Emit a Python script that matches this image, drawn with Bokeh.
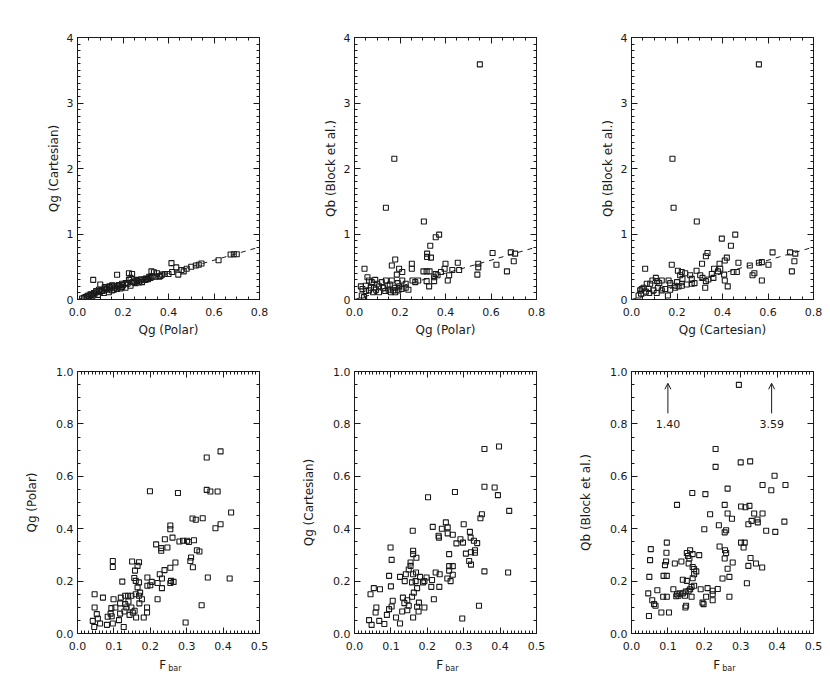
from bokeh.plotting import figure
from bokeh.layouts import column, row
from bokeh.models import (Range1d, SingleIntervalTicker, LinearAxis, NumeralTickFormatter,
                          Label, Arrow, OpenHead)
from bokeh.embed import file_html
from bokeh.resources import INLINE

# ---------------- data ----------------
p1_x = [0.673, 0.687, 0.70, 0.62, 0.533, 0.545, 0.52, 0.50, 0.48, 0.413,
        0.434, 0.443, 0.457, 0.467, 0.416, 0.40, 0.384, 0.372, 0.35, 0.336,
        0.325, 0.343, 0.321, 0.306, 0.29, 0.277, 0.262, 0.24, 0.233, 0.226,
        0.174, 0.226, 0.243, 0.211, 0.196, 0.182, 0.167, 0.152, 0.138, 0.12,
        0.10, 0.126, 0.108, 0.094, 0.082, 0.069, 0.072, 0.057, 0.047, 0.035,
        0.028, 0.02, 0.152, 0.174, 0.196, 0.211, 0.233, 0.255, 0.284, 0.299,
        0.138, 0.116, 0.09, 0.065, 0.36, 0.365, 0.27, 0.31, 0.19, 0.16,
        0.05, 0.04, 0.06, 0.075, 0.085, 0.11, 0.13, 0.145, 0.165, 0.18,
        0.20, 0.22, 0.25, 0.26, 0.28, 0.30, 0.315, 0.33, 0.10, 0.12,
        0.14, 0.16]
p1_y = [0.687, 0.69, 0.69, 0.60, 0.53, 0.55, 0.52, 0.50, 0.47, 0.555,
        0.49, 0.38, 0.45, 0.43, 0.42, 0.39, 0.39, 0.38, 0.40, 0.415,
        0.43, 0.35, 0.33, 0.315, 0.30, 0.29, 0.28, 0.39, 0.33, 0.40,
        0.377, 0.30, 0.265, 0.25, 0.24, 0.22, 0.20, 0.215, 0.19, 0.19,
        0.23, 0.16, 0.14, 0.15, 0.13, 0.30, 0.10, 0.08, 0.06, 0.036,
        0.025, 0.015, 0.14, 0.16, 0.19, 0.18, 0.21, 0.25, 0.265, 0.30,
        0.11, 0.10, 0.07, 0.05, 0.35, 0.36, 0.26, 0.31, 0.17, 0.15,
        0.05, 0.045, 0.07, 0.09, 0.11, 0.13, 0.15, 0.17, 0.18, 0.20,
        0.22, 0.24, 0.27, 0.30, 0.31, 0.32, 0.345, 0.35, 0.12, 0.17,
        0.20, 0.21]

p2_x = [0.138, 0.305, 0.372, 0.357, 0.333, 0.319, 0.319, 0.336, 0.607, 0.687,
        0.706, 0.624, 0.70, 0.67, 0.454, 0.544, 0.544, 0.54, 0.40, 0.396,
        0.357, 0.365, 0.416, 0.41, 0.38, 0.303, 0.317, 0.33, 0.252, 0.252,
        0.179, 0.164, 0.196, 0.21, 0.186, 0.044, 0.255, 0.267, 0.28, 0.328,
        0.35, 0.35, 0.317, 0.21, 0.225, 0.19, 0.164, 0.155, 0.179, 0.193,
        0.138, 0.145, 0.12, 0.108, 0.091, 0.076, 0.10, 0.086, 0.064, 0.05,
        0.035, 0.028, 0.05, 0.064, 0.072, 0.082, 0.094, 0.108, 0.126, 0.135,
        0.15, 0.16, 0.17, 0.179, 0.196, 0.208, 0.225, 0.237, 0.032, 0.042,
        0.43, 0.46, 0.057, 0.551, 0.175]
p2_y = [1.40, 1.19, 0.99, 0.95, 0.82, 0.70, 0.65, 0.64, 0.71, 0.72,
        0.70, 0.53, 0.585, 0.43, 0.56, 0.545, 0.49, 0.38, 0.545, 0.47,
        0.39, 0.37, 0.37, 0.29, 0.42, 0.43, 0.43, 0.43, 0.545, 0.47,
        0.61, 0.52, 0.47, 0.42, 0.38, 0.47, 0.29, 0.265, 0.29, 0.20,
        0.34, 0.28, 0.28, 0.29, 0.24, 0.25, 0.29, 0.23, 0.18, 0.14,
        0.29, 0.21, 0.265, 0.20, 0.30, 0.265, 0.24, 0.18, 0.29, 0.21,
        0.16, 0.20, 0.13, 0.14, 0.18, 0.11, 0.15, 0.11, 0.18, 0.13,
        0.15, 0.11, 0.14, 0.11, 0.20, 0.16, 0.18, 0.15, 0.06, 0.036,
        0.45, 0.45, 0.34, 3.59, 2.15]

p3_x = [0.185, 0.287, 0.456, 0.397, 0.437, 0.334, 0.327, 0.419, 0.62, 0.697,
        0.72, 0.716, 0.705, 0.602, 0.573, 0.56, 0.52, 0.54, 0.532, 0.573,
        0.47, 0.463, 0.448, 0.41, 0.387, 0.39, 0.38, 0.363, 0.353, 0.36,
        0.407, 0.41, 0.423, 0.31, 0.286, 0.302, 0.312, 0.338, 0.327, 0.177,
        0.06, 0.204, 0.221, 0.236, 0.214, 0.224, 0.258, 0.265, 0.163, 0.17,
        0.133, 0.122, 0.107, 0.113, 0.092, 0.082, 0.067, 0.053, 0.038, 0.045,
        0.031, 0.042, 0.075, 0.097, 0.116, 0.133, 0.148, 0.17, 0.192, 0.207,
        0.221, 0.243, 0.265, 0.277, 0.16, 0.111, 0.324, 0.20, 0.19, 0.063,
        0.078, 0.56, 0.18]
p3_y = [1.40, 1.19, 0.99, 0.93, 0.82, 0.71, 0.66, 0.64, 0.72, 0.72,
        0.70, 0.585, 0.43, 0.53, 0.57, 0.56, 0.52, 0.40, 0.37, 0.29,
        0.56, 0.42, 0.42, 0.595, 0.545, 0.47, 0.43, 0.47, 0.39, 0.33,
        0.38, 0.29, 0.20, 0.545, 0.44, 0.37, 0.33, 0.305, 0.28, 0.53,
        0.47, 0.44, 0.42, 0.40, 0.37, 0.315, 0.37, 0.315, 0.29, 0.25,
        0.29, 0.25, 0.33, 0.28, 0.29, 0.24, 0.24, 0.18, 0.14, 0.16,
        0.06, 0.09, 0.16, 0.14, 0.18, 0.14, 0.16, 0.15, 0.18, 0.20,
        0.21, 0.23, 0.24, 0.25, 0.06, 0.10, 0.18, 0.265, 0.21, 0.12,
        0.10, 3.59, 2.15]

fit_x = [0.0, 0.8]
fit_y = [0.0, 0.8]

p4_x = [0.393, 0.355, 0.199, 0.276, 0.355, 0.365, 0.385, 0.422, 0.393, 0.379,
        0.316, 0.325, 0.344, 0.255, 0.255, 0.240, 0.261, 0.216, 0.230, 0.230,
        0.247, 0.280, 0.290, 0.301, 0.306, 0.320, 0.328, 0.335, 0.312, 0.310,
        0.317, 0.269, 0.239, 0.255, 0.257, 0.264, 0.255, 0.232, 0.226, 0.232,
        0.220, 0.220, 0.204, 0.192, 0.192, 0.200, 0.358, 0.418, 0.341, 0.297,
        0.097, 0.097, 0.123, 0.150, 0.158, 0.165, 0.169, 0.156, 0.160, 0.165,
        0.169, 0.172, 0.169, 0.160, 0.148, 0.139, 0.131, 0.119, 0.117, 0.131,
        0.140, 0.134, 0.148, 0.157, 0.152, 0.143, 0.129, 0.117, 0.114, 0.127,
        0.104, 0.093, 0.091, 0.083, 0.094, 0.097, 0.081, 0.099, 0.070, 0.047,
        0.047, 0.053, 0.056, 0.062, 0.046, 0.042, 0.182, 0.191, 0.191, 0.161,
        0.177, 0.170]
p4_y = [0.695, 0.672, 0.543, 0.536, 0.548, 0.542, 0.542, 0.462, 0.417, 0.402,
        0.439, 0.434, 0.440, 0.412, 0.398, 0.360, 0.366, 0.340, 0.326, 0.316,
        0.328, 0.351, 0.354, 0.354, 0.349, 0.356, 0.318, 0.313, 0.290, 0.277,
        0.253, 0.271, 0.242, 0.251, 0.201, 0.197, 0.193, 0.210, 0.226, 0.173,
        0.131, 0.193, 0.197, 0.214, 0.182, 0.184, 0.214, 0.210, 0.108, 0.042,
        0.277, 0.254, 0.198, 0.275, 0.240, 0.258, 0.272, 0.212, 0.201, 0.176,
        0.195, 0.156, 0.144, 0.150, 0.144, 0.144, 0.144, 0.137, 0.115, 0.112,
        0.122, 0.099, 0.099, 0.087, 0.080, 0.071, 0.084, 0.076, 0.051, 0.025,
        0.099, 0.097, 0.076, 0.064, 0.066, 0.038, 0.033, 0.131, 0.137, 0.150,
        0.099, 0.074, 0.057, 0.038, 0.025, 0.048, 0.061, 0.099, 0.080, 0.061,
        0.131, 0.115]

p5_x = [0.357, 0.397, 0.202, 0.357, 0.385, 0.394, 0.276, 0.425, 0.350, 0.346,
        0.300, 0.251, 0.256, 0.256, 0.160, 0.215, 0.240, 0.231, 0.232, 0.270,
        0.280, 0.298, 0.291, 0.317, 0.319, 0.328, 0.337, 0.331, 0.331, 0.320,
        0.315, 0.320, 0.306, 0.099, 0.102, 0.260, 0.161, 0.161, 0.170, 0.154,
        0.154, 0.149, 0.161, 0.169, 0.141, 0.168, 0.158, 0.138, 0.125, 0.095,
        0.100, 0.172, 0.163, 0.158, 0.133, 0.137, 0.145, 0.149, 0.172, 0.176,
        0.161, 0.145, 0.131, 0.114, 0.125, 0.105, 0.102, 0.095, 0.089, 0.082,
        0.044, 0.053, 0.070, 0.060, 0.058, 0.068, 0.040, 0.047, 0.180, 0.198,
        0.192, 0.188, 0.213, 0.211, 0.218, 0.223, 0.234, 0.233, 0.255, 0.260,
        0.260, 0.270, 0.264, 0.270, 0.357, 0.422, 0.342, 0.296, 0.192, 0.177]
p5_y = [0.704, 0.714, 0.520, 0.560, 0.557, 0.528, 0.540, 0.468, 0.455, 0.440,
        0.417, 0.424, 0.405, 0.382, 0.392, 0.407, 0.400, 0.373, 0.366, 0.377,
        0.344, 0.347, 0.360, 0.388, 0.366, 0.354, 0.345, 0.318, 0.308, 0.310,
        0.277, 0.263, 0.305, 0.328, 0.281, 0.303, 0.316, 0.303, 0.289, 0.271,
        0.258, 0.244, 0.226, 0.233, 0.226, 0.200, 0.195, 0.200, 0.216, 0.220,
        0.180, 0.173, 0.156, 0.140, 0.137, 0.116, 0.127, 0.106, 0.102, 0.084,
        0.061, 0.089, 0.084, 0.061, 0.038, 0.125, 0.103, 0.093, 0.071, 0.036,
        0.150, 0.173, 0.169, 0.099, 0.080, 0.048, 0.051, 0.033, 0.216, 0.214,
        0.200, 0.195, 0.204, 0.178, 0.131, 0.233, 0.226, 0.178, 0.210, 0.240,
        0.257, 0.257, 0.200, 0.224, 0.237, 0.233, 0.106, 0.057, 0.099, 0.118]

p6_x = [0.295, 0.231, 0.231, 0.326, 0.300, 0.393, 0.264, 0.360, 0.423, 0.384,
        0.167, 0.203, 0.125, 0.256, 0.264, 0.276, 0.216, 0.240, 0.200, 0.256,
        0.260, 0.301, 0.313, 0.324, 0.337, 0.360, 0.346, 0.347, 0.321, 0.330,
        0.370, 0.395, 0.420, 0.301, 0.311, 0.308, 0.242, 0.257, 0.260, 0.256,
        0.278, 0.264, 0.327, 0.342, 0.321, 0.359, 0.317, 0.250, 0.269, 0.269,
        0.237, 0.223, 0.223, 0.223, 0.209, 0.205, 0.195, 0.198, 0.190, 0.186,
        0.168, 0.161, 0.152, 0.155, 0.159, 0.157, 0.168, 0.172, 0.178, 0.172,
        0.168, 0.152, 0.141, 0.165, 0.172, 0.161, 0.157, 0.165, 0.141, 0.147,
        0.125, 0.129, 0.123, 0.132, 0.115, 0.119, 0.137, 0.149, 0.150, 0.148,
        0.095, 0.092, 0.096, 0.097, 0.097, 0.088, 0.087, 0.097, 0.071, 0.053,
        0.051, 0.049, 0.046, 0.057, 0.062, 0.066, 0.082, 0.103, 0.048]
p6_y = [0.949, 0.704, 0.636, 0.657, 0.653, 0.602, 0.553, 0.567, 0.567, 0.547,
        0.536, 0.532, 0.491, 0.491, 0.458, 0.438, 0.455, 0.413, 0.398, 0.386,
        0.394, 0.485, 0.482, 0.487, 0.458, 0.458, 0.435, 0.424, 0.417, 0.430,
        0.392, 0.388, 0.427, 0.347, 0.347, 0.328, 0.332, 0.318, 0.307, 0.286,
        0.271, 0.247, 0.288, 0.267, 0.258, 0.252, 0.192, 0.210, 0.216, 0.140,
        0.170, 0.163, 0.150, 0.127, 0.173, 0.140, 0.118, 0.112, 0.169, 0.299,
        0.303, 0.318, 0.307, 0.296, 0.286, 0.267, 0.254, 0.246, 0.237, 0.226,
        0.211, 0.201, 0.205, 0.178, 0.182, 0.169, 0.163, 0.140, 0.153, 0.144,
        0.150, 0.144, 0.142, 0.153, 0.169, 0.267, 0.275, 0.160, 0.106, 0.099,
        0.275, 0.261, 0.308, 0.347, 0.220, 0.220, 0.140, 0.140, 0.165, 0.322,
        0.280, 0.216, 0.153, 0.127, 0.112, 0.106, 0.080, 0.080, 0.067]

p6_off_x = [0.10, 0.385]
p6_off_labels = ["1.40", "3.59"]

# ---------------- styling ----------------
FONT = "DejaVu Sans"
INK = "#1a1a1a"
NB = "\u00a0"


def make_panel(xs, ys, xr, yr, xint, xminor, yint, yminor, xfmt, yfmt,
               xlabel, ylabel, ylab_standoff, w, h, bl, br, bt, bb):
    p = figure(width=w, height=h, x_range=Range1d(*xr), y_range=Range1d(*yr),
               output_backend="svg", toolbar_location=None,
               x_axis_type=None, y_axis_type=None,
               min_border_left=bl, min_border_right=br,
               min_border_top=bt, min_border_bottom=bb)
    p.outline_line_color = INK
    p.outline_line_width = 1
    xt = SingleIntervalTicker(interval=xint, num_minor_ticks=xminor)
    yt = SingleIntervalTicker(interval=yint, num_minor_ticks=yminor)
    for loc, tick, fmt, lab in [("below", xt, xfmt, xlabel),
                                ("left", yt, yfmt, ylabel),
                                ("above", xt, xfmt, None),
                                ("right", yt, yfmt, None)]:
        ax = LinearAxis(ticker=tick, formatter=NumeralTickFormatter(format=fmt))
        ax.axis_line_color = INK
        ax.major_tick_line_color = INK
        ax.minor_tick_line_color = INK
        ax.major_tick_in = 6
        ax.major_tick_out = 0
        ax.minor_tick_in = 3
        ax.minor_tick_out = 0
        if loc in ("below", "left"):
            ax.major_label_text_font = FONT
            ax.major_label_text_font_size = "11px"
            ax.major_label_text_color = INK
            ax.major_label_standoff = 8 if loc == "below" else 4
            if lab:
                ax.axis_label = lab
                ax.axis_label_text_font = FONT
                ax.axis_label_text_font_size = "12px"
                ax.axis_label_text_font_style = "normal"
                ax.axis_label_text_color = INK
                ax.axis_label_standoff = 4 if loc == "below" else ylab_standoff
        else:
            ax.major_label_text_font_size = "1px"
            ax.major_label_text_color = None
            ax.major_label_standoff = 0
        p.add_layout(ax, loc)
    p.scatter(xs, ys, marker="square", size=5, fill_color=None,
              line_color=INK, line_width=1.1)
    return p


def add_fbar(p):
    # "F" with subscript "bar": main label on the tick axis, subscript on a
    # bare axis stacked underneath it and pulled up beside the "F"
    ax = p.below[0]
    ax.axis_label = "F" + NB * 3
    ax.axis_label_text_font = FONT
    ax.axis_label_text_font_size = "12px"
    ax.axis_label_text_font_style = "normal"
    ax.axis_label_text_color = INK
    ax.axis_label_standoff = 5
    sub = LinearAxis(ticker=SingleIntervalTicker(interval=0.1, num_minor_ticks=0),
                     axis_line_color=None, major_tick_line_color=None,
                     minor_tick_line_color=None, major_label_text_color=None,
                     major_label_text_font_size="1px", major_label_standoff=0,
                     axis_label=NB * 5 + "bar", axis_label_text_font=FONT,
                     axis_label_text_font_size="8px",
                     axis_label_text_font_style="normal",
                     axis_label_text_color=INK, axis_label_standoff=-17)
    p.add_layout(sub, "below")


TOP_H, BOT_H = 353, 339

p1 = make_panel(p1_x, p1_y, (0, 0.8), (0, 4), 0.2, 4, 1, 10, "0.0", "0",
                "Qg (Polar)", "Qg (Cartesian)", 3, 285, TOP_H, 77, 26, 37, 54)
p2 = make_panel(p2_x, p2_y, (0, 0.8), (0, 4), 0.2, 4, 1, 10, "0.0", "0",
                "Qg (Polar)", "Qb (Block et al.)", 3, 277, TOP_H, 69, 26, 37, 54)
p3 = make_panel(p3_x, p3_y, (0, 0.8), (0, 4), 0.2, 4, 1, 10, "0.0", "0",
                "Qg (Cartesian)", "Qb (Block et al.)", 3, 260, TOP_H, 69, 9, 37, 54)
for p in (p1, p2, p3):
    p.line(fit_x, fit_y, line_color=INK, line_width=1, line_dash="5 5")

p4 = make_panel(p4_x, p4_y, (0, 0.5), (0, 1), 0.1, 10, 0.2, 4, "0.0", "0.0",
                None, "Qg (Polar)", 14, 285, BOT_H, 77, 26, 18, 59)
p5 = make_panel(p5_x, p5_y, (0, 0.5), (0, 1), 0.1, 10, 0.2, 4, "0.0", "0.0",
                None, "Qg (Cartesian)", 14, 277, BOT_H, 69, 26, 18, 59)
p6 = make_panel(p6_x, p6_y, (0, 0.5), (0, 1), 0.1, 10, 0.2, 4, "0.0", "0.0",
                None, "Qb (Block et al.)", 14, 260, BOT_H, 69, 9, 18, 59)
for p in (p4, p5, p6):
    add_fbar(p)

for xv, lab in zip(p6_off_x, p6_off_labels):
    p6.add_layout(Arrow(end=OpenHead(size=6, line_width=1, line_color=INK),
                        x_start=xv, y_start=0.84, x_end=xv, y_end=0.955,
                        line_width=1, line_color=INK))
    p6.add_layout(Label(x=xv, y=0.80, text=lab, text_align="center",
                        text_baseline="middle", text_font=FONT,
                        text_font_size="11px", text_color=INK))

layout = column(row(p1, p2, p3), row(p4, p5, p6))

with open("out.html", "w") as f:
    f.write(file_html(layout, INLINE))
